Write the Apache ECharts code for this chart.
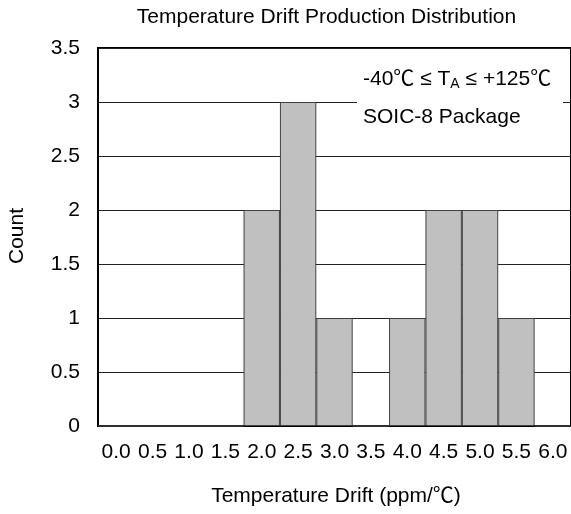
<!DOCTYPE html>
<html>
<head>
<meta charset="utf-8">
<script src="https://cdn.jsdelivr.net/npm/echarts@6/dist/echarts.min.js"></script>
<style>html,body{margin:0;padding:0;background:#fff}#c{width:571px;height:514px}</style>
</head>
<body>
<div id="c"></div>
<script>
const categories = ['0.0','0.5','1.0','1.5','2.0','2.5','3.0','3.5','4.0','4.5','5.0','5.5','6.0'];
const counts = [0,0,0,0,2,3,1,0,1,2,2,1,0];
const yTicks = {min:0, max:3.5, interval:0.5};
const titleText = 'Temperature Drift Production Distribution';
const xName = 'Temperature Drift (ppm/℃)';
const yName = 'Count';
const noteLine1 = '{n|-40℃ ≤ T}{s|A}{n| ≤ +125℃}';
const noteLine2 = 'SOIC-8 Package';

const FONT = '"Liberation Sans", Arial, "Noto Sans CJK SC", sans-serif';
const chart = echarts.init(document.getElementById('c'), null, {renderer:'canvas'});
chart.setOption({
  animation:false,
  backgroundColor:'#fff',
  grid:{left:98, top:48, width:474, height:378, show:true, borderColor:'#000', borderWidth:2, backgroundColor:'transparent'},
  xAxis:{type:'category', data:categories,
    axisLine:{show:true, lineStyle:{color:'#000', width:2}},
    axisTick:{show:false},
    axisLabel:{interval:0, margin:16, fontSize:21, fontFamily:FONT, color:'#000'},
    splitLine:{show:false}},
  yAxis:{type:'value', min:yTicks.min, max:yTicks.max, interval:yTicks.interval,
    axisLine:{show:true, lineStyle:{color:'#000', width:2}},
    axisTick:{show:false},
    axisLabel:{margin:18, fontSize:21, fontFamily:FONT, color:'#000'},
    splitLine:{show:true, lineStyle:{color:'#222', width:1}}},
  series:[{type:'bar', data:counts, barWidth:'100%', barCategoryGap:0,
    itemStyle:{color:'#c0c0c0', borderColor:'#404040', borderWidth:1}}],
  graphic:[
    {type:'text', x:326.5, y:17.5, style:{text:titleText, font:'21px '+FONT, fill:'#000', textAlign:'center', textVerticalAlign:'middle'}},
    {type:'text', x:336, y:496, style:{text:xName, font:'21px '+FONT, fill:'#000', textAlign:'center', textVerticalAlign:'middle'}},
    {type:'text', x:17, y:236, rotation:Math.PI/2, style:{text:yName, font:'21px '+FONT, fill:'#000', textAlign:'center', textVerticalAlign:'middle'}},
    {type:'rect', shape:{x:357, y:50, width:206, height:100}, style:{fill:'#fff'}, z:100},
    {type:'text', x:363, y:79, z:101, style:{text:noteLine1, fill:'#000', textAlign:'left', textVerticalAlign:'middle',
      rich:{n:{fontSize:21, fontFamily:FONT, color:'#000', lineHeight:24, verticalAlign:'middle'},
            s:{fontSize:14, fontFamily:FONT, color:'#000', lineHeight:14, padding:[14,0,0,0], verticalAlign:'bottom'}}}},
    {type:'text', x:363, y:117, z:101, style:{text:noteLine2, font:'21px '+FONT, fill:'#000', textAlign:'left', textVerticalAlign:'middle'}}
  ]
});
</script>
</body>
</html>
